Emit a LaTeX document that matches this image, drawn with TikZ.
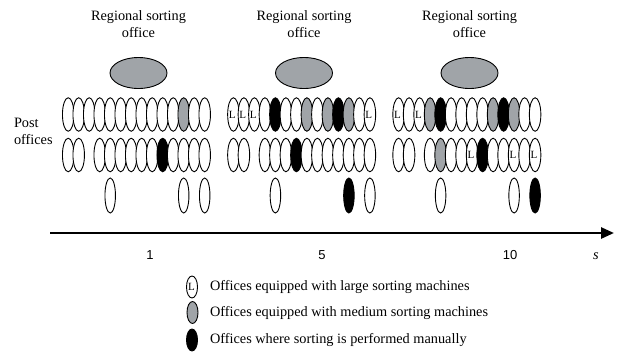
\documentclass[tikz,border=0pt]{standalone}
\usepackage{fontspec}
\setmainfont{Liberation Serif}
\newfontfamily\numfont{Liberation Sans}
\usetikzlibrary{shapes.geometric,arrows.meta}
\definecolor{midgray}{RGB}{160,164,168}
\begin{document}
\begin{tikzpicture}[x=1bp,y=-1bp,
  every node/.style={inner sep=0pt,outer sep=0pt},
  txt/.style={font=\fontsize{14.3bp}{17bp}\selectfont},
  po/.style={ellipse,draw=black,line width=0.9bp,minimum width=11.5bp,minimum height=33.5bp},
  oW/.style={po,fill=white},
  oG/.style={po,fill=midgray},
  oB/.style={po,fill=black},
  oL/.style={po,fill=white,label={[font=\fontsize{11bp}{11bp}\selectfont,xshift=-1.2bp]center:L}},
  reg/.style={ellipse,draw=black,line width=0.9bp,fill=midgray,minimum width=57bp,minimum height=31bp},
  leg/.style={ellipse,draw=black,line width=0.9bp,minimum width=11bp,minimum height=22bp}]
\useasboundingbox (0,0) rectangle (622,351);
% titles and regional offices
\foreach \i/\cx in {1/138.5,2/304,3/469.5}{
  \node[txt,align=center] (title\i) at (\cx,24) {Regional sorting\\office};
  \node[reg] (reg\i) at (\cx,73) {};
}
\node[txt,align=left,anchor=west] (post) at (14,131) {Post\\offices};
% group 1
\begin{scope}[xshift=0bp]
\foreach \k/\t in {0/oW,1/oW,2/oW,3/oW,4/oW,5/oW,6/oW,7/oW,8/oW,9/oW,10/oW,11/oG,12/oW,13/oW}
  \node[\t] (a1r1s\k) at ({68.2+10.5*\k},114.5) {};
\foreach \k/\t in {0/oW,1/oW,3/oW,4/oW,5/oW,6/oW,7/oW,8/oW,9/oB,10/oW,11/oW,12/oW,13/oW}
  \node[\t] (a1r2s\k) at ({68.2+10.5*\k},155) {};
\foreach \k/\t in {4/oW,11/oW,13/oW}
  \node[\t,minimum width=10.5bp,minimum height=35bp] (a1r3s\k) at ({68.2+10.5*\k},195.5) {};
\end{scope}
% group 2
\begin{scope}[xshift=165.2bp]
\foreach \k/\t in {0/oL,1/oL,2/oL,3/oW,4/oB,5/oW,6/oW,7/oG,8/oW,9/oG,10/oB,11/oG,12/oW,13/oL}
  \node[\t] (a2r1s\k) at ({68.2+10.5*\k},114.5) {};
\foreach \k/\t in {0/oW,1/oW,3/oW,4/oW,5/oW,6/oB,7/oW,8/oW,9/oW,10/oW,11/oW,12/oW,13/oW}
  \node[\t] (a2r2s\k) at ({68.2+10.5*\k},155) {};
\foreach \k/\t in {4/oW,11/oB,13/oW}
  \node[\t,minimum width=10.5bp,minimum height=35bp] (a2r3s\k) at ({68.2+10.5*\k},195.5) {};
\end{scope}
% group 3
\begin{scope}[xshift=330.4bp]
\foreach \k/\t in {0/oL,1/oW,2/oL,3/oG,4/oB,5/oW,6/oW,7/oW,8/oW,9/oG,10/oB,11/oG,12/oW,13/oW}
  \node[\t] (a3r1s\k) at ({68.2+10.5*\k},114.5) {};
\foreach \k/\t in {0/oW,1/oW,3/oW,4/oG,5/oW,6/oW,7/oL,8/oB,9/oW,10/oW,11/oL,12/oW,13/oL}
  \node[\t] (a3r2s\k) at ({68.2+10.5*\k},155) {};
\foreach \k/\t in {4/oW,11/oW,13/oB}
  \node[\t,minimum width=10.5bp,minimum height=35bp] (a3r3s\k) at ({68.2+10.5*\k},195.5) {};
\end{scope}
% axis
\coordinate (ax0) at (50,233);
\coordinate (ax1) at (614,233);
\draw[line width=2.6bp,-{Triangle[length=13bp,width=11bp]}] (ax0) -- (ax1);
\node[font=\numfont\fontsize{13bp}{13bp}\selectfont] (t1) at (150,255) {1};
\node[font=\numfont\fontsize{13bp}{13bp}\selectfont] (t5) at (322,255) {5};
\node[font=\numfont\fontsize{13bp}{13bp}\selectfont] (t10) at (510,255) {10};
\node[txt,font=\fontsize{14.3bp}{17bp}\selectfont\itshape] (ts) at (596,256) {s};
% legend
\node[leg,fill=white,label={[font=\fontsize{11bp}{11bp}\selectfont,xshift=-0.5bp]center:L}] (lgL) at (192,287) {};
\node[leg,fill=midgray] (lgG) at (192.5,312.5) {};
\node[leg,fill=black] (lgB) at (192,340) {};
\node[txt,anchor=west] (lt1) at (210,287) {Offices equipped with large sorting machines};
\node[txt,anchor=west] (lt2) at (210,312.5) {Offices equipped with medium sorting machines};
\node[txt,anchor=west] (lt3) at (210,340) {Offices where sorting is performed manually};
\end{tikzpicture}
\end{document}
